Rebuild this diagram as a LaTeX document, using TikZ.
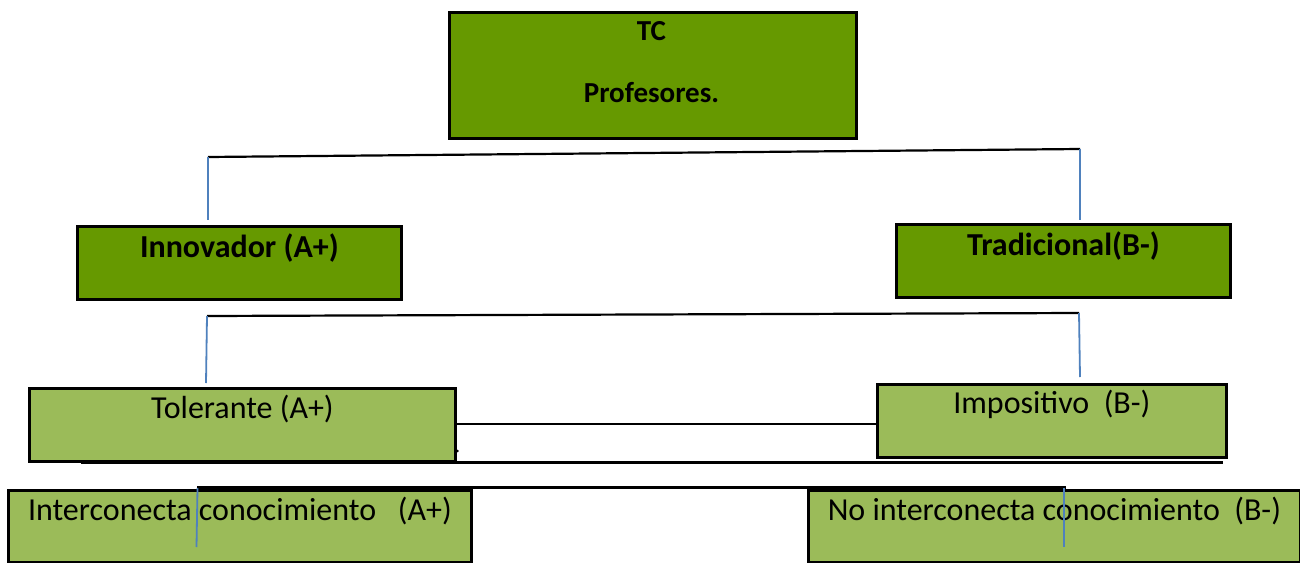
\documentclass[tikz,border=0pt]{standalone}
\usepackage{fontspec}
\setmainfont{Carlito}
\definecolor{darkleaf}{HTML}{669900}
\definecolor{lightleaf}{HTML}{9BBB59}
\definecolor{linkblue}{HTML}{4F81BD}
\begin{document}
\begin{tikzpicture}[x=1pt,y=-1pt,
  box/.style={draw=black, line width=2.8pt, inner sep=0pt, anchor=north west},
  topbox/.style={box, fill=darkleaf},
  lowbox/.style={box, fill=lightleaf},
  heading/.style={font=\fontsize{32}{38}\selectfont\bfseries},
  plain/.style={font=\fontsize{32}{38}\selectfont},
  rule/.style={draw=black, line width=2.2pt},
  tick/.style={draw=linkblue, line width=1.8pt}]
\useasboundingbox (0,0) rectangle (1300,562);

% first level
\node[topbox, minimum width=407pt, minimum height=126pt] (tc) at (448,11) {};
\node[font=\fontsize{29}{34}\selectfont\bfseries, anchor=base] (tct) at (651.5,40) {TC};
\node[font=\fontsize{29}{34}\selectfont\bfseries, anchor=base] (tcp) at (651.5,102) {Profesores.};

% second level
\node[topbox, minimum width=324pt, minimum height=73pt,
  label={[heading, anchor=base, yshift=-32pt]north:Innovador (A+)}] (inn) at (76,225) {};
\node[topbox, minimum width=334pt, minimum height=73pt,
  label={[heading, anchor=base, yshift=-32pt]north:Tradicional(B-)}] (tra) at (895,223) {};

% third level
\node[lowbox, minimum width=426pt, minimum height=73pt,
  label={[plain, anchor=base, yshift=-31pt]north:Tolerante (A+)}] (tol) at (28,387) {};
\node[lowbox, minimum width=349pt, minimum height=73pt,
  label={[plain, anchor=base, yshift=-30pt]north:Impositivo\ \ (B-)}] (imp) at (876,383) {};

% fourth level
\node[lowbox, minimum width=463pt, minimum height=72pt,
  label={[plain, anchor=base, yshift=-31pt]north:Interconecta conocimiento\ \ \ (A+)}] (int) at (7,489) {};
\node[lowbox, minimum width=492pt, minimum height=72pt,
  label={[plain, anchor=base, yshift=-31pt]north:No interconecta conocimiento\ \ (B-)}] (nin) at (807,489) {};

% bracket ends
\coordinate (a1) at (208,157);
\coordinate (a2) at (1080,149);
\coordinate (a1d) at (208,220);
\coordinate (a2d) at (1080,220);
\coordinate (b1) at (207,316);
\coordinate (b2) at (1079,313);
\coordinate (b1d) at (206,383);
\coordinate (b2d) at (1080,377);
\coordinate (c1) at (81,462.5);
\coordinate (c2) at (1223,462.5);
\coordinate (d1) at (197,487.5);
\coordinate (d2) at (1066,487.5);
\coordinate (d1d) at (196.5,547);
\coordinate (d2d) at (1064,547);

% connectors
\draw[rule] (a1) -- (a2);
\draw[tick] (a1) -- (a1d);
\draw[tick] (a2) -- (a2d);
\draw[rule] (b1) -- (b2);
\draw[tick] (b1) -- (b1d);
\draw[tick] (b2) -- (b2d);
\draw[rule] (tol.east |- 0,424) -- (imp.west |- 0,424);
\fill[black] (457.5,451) circle (1.3pt);
\draw[rule] (c1) -- (c2);
\draw[rule] (d1) -- (d2);
\draw[tick] (197.5,488) -- (d1d);
\draw[tick] (1064,488) -- (d2d);
\end{tikzpicture}
\end{document}
